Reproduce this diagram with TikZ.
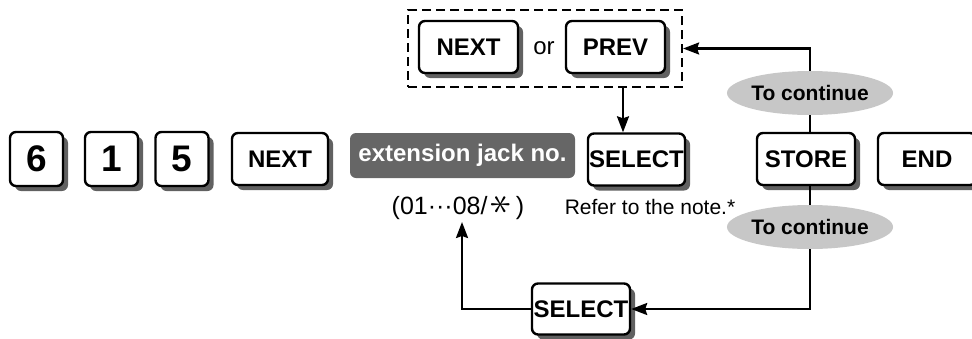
\documentclass[tikz,border=0pt]{standalone}
\usepackage{fontspec}
\setmainfont{Liberation Sans}
\usepackage{graphicx}
\usetikzlibrary{shadows,shapes.geometric,arrows.meta}

\tikzset{
  key/.style={draw, line width=1.2pt, rounded corners=3pt, fill=white, inner sep=0pt,
    minimum width=49pt, minimum height=26pt,
    font=\fontsize{12}{12}\selectfont\bfseries,
    drop shadow={shadow xshift=2.5pt, shadow yshift=-2.5pt, fill=black!62, opacity=1}},
  digitkey/.style={key, minimum width=26.5pt, minimum height=27pt,
    font=\fontsize{18.5}{18.5}\selectfont\bfseries},
  darkbox/.style={fill=black!60, text=white, rounded corners=3pt, inner sep=0pt,
    minimum width=112.5pt, minimum height=22.5pt,
    font=\fontsize{12}{12}\selectfont\bfseries},
  cont/.style={ellipse, fill=black!22, inner sep=0pt, minimum width=71.5pt,
    minimum height=22pt, font=\fontsize{10.5}{10.5}\selectfont\bfseries},
  flow/.style={line width=1.1pt, -{Stealth[length=8pt,width=6pt,inset=1pt]}},
}

\begin{document}
\begin{tikzpicture}[x=0.5pt, y=-0.5pt]
  \useasboundingbox (0,0) rectangle (972,338);
  % 입력 순서
  \node[digitkey] (k6) at (36.5,159) {6};
  \node[digitkey] (k1) at (111.5,159) {1};
  \node[digitkey] (k5) at (182,159) {5};
  \node[key, minimum width=48pt] (next) at (280,159) {NEXT};
  \node[darkbox] (ext) at (462.5,155.5) {extension jack no.};
  \node[key, minimum width=48.5pt] (seltop) at (636.5,159.5) {SELECT};
  \node[key] (store) at (806,159) {STORE};
  \node[key] (end) at (927,159) {END};
  \node[font=\fontsize{12.5}{12.5}\selectfont] (range) at (458,207)
    {(01\textperiodcentered\textperiodcentered\textperiodcentered 08/\,\scalebox{1.8}{\rotatebox[origin=c]{90}{$\ast$}}\,)};
  \node[font=\fontsize{10.5}{10.5}\selectfont] (note) at (650,207) {Refer to the note.*};
  % 점선 상자
  \node[draw, line width=1.1pt, dash pattern=on 4.5pt off 2.5pt, inner sep=0pt,
    minimum width=137pt, minimum height=38.5pt] (grp) at (545,48.5) {};
  \node[key, minimum width=49.5pt] (next2) at (468.5,47) {NEXT};
  \node[font=\fontsize{12}{12}\selectfont] (or) at (544,48) {or};
  \node[key, minimum width=49.5pt] (prev) at (615.5,47) {PREV};
  % 계속
  \node[cont] (cont1) at (810,93) {To continue};
  \node[cont] (cont2) at (810,227) {To continue};
  \node[key, minimum width=49pt, minimum height=25.5pt] (selbot) at (581,309) {SELECT};
  \coordinate (drop) at (623,87);
  \coordinate (tip) at (462,222);
  % 연결선
  \draw[flow] (drop) -- (drop |- seltop.north);
  \draw[flow] (cont1.north) |- (grp.east);
  \draw[line width=1.1pt] (cont1.south) -- (cont1.south |- store.north);
  \draw[line width=1.1pt] (cont2.north |- store.south) -- (cont2.north);
  \draw[flow] (cont2.south) |- (selbot.east);
  \draw[flow] (selbot.west) -| (tip);
\end{tikzpicture}
\end{document}
